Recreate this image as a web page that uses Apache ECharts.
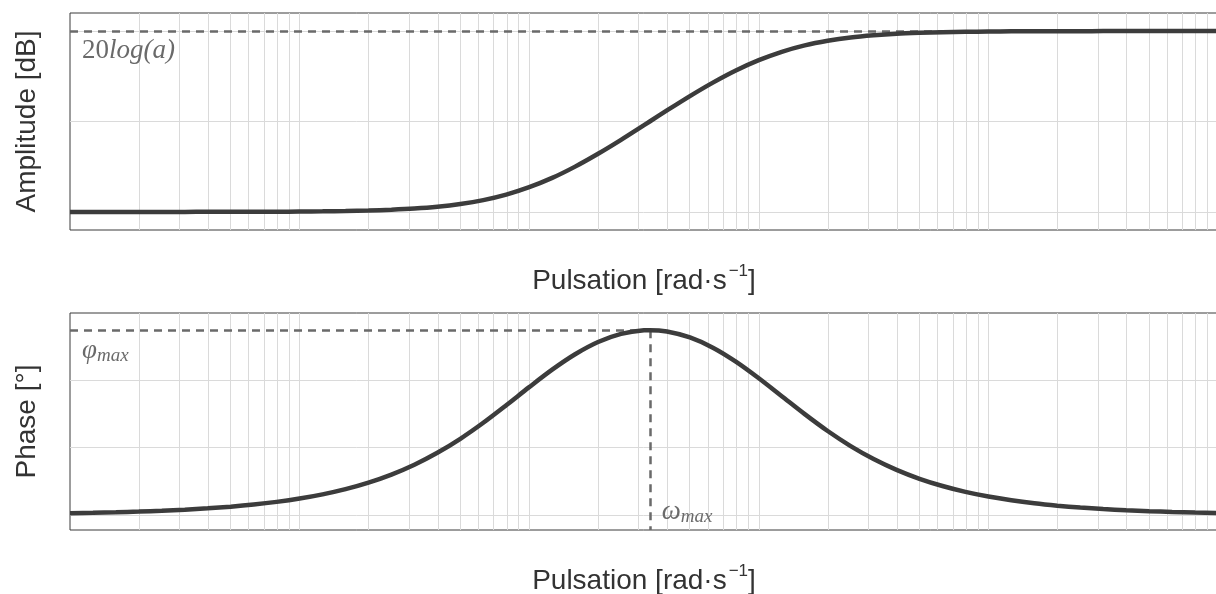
<!DOCTYPE html>
<html><head><meta charset="utf-8">
<script src="https://cdn.jsdelivr.net/npm/echarts@6/dist/echarts.min.js"></script>
<style>html,body{margin:0;padding:0;background:#fff}#c{width:1216px;height:594px}</style>
</head><body><div id="c"></div>
<script>
// pulsation samples [rad/s]
const omega = [0.01,0.01259,0.01585,0.01995,0.02512,0.03162,0.03981,0.05012,0.0631,0.07943,
  0.1,0.1259,0.1585,0.1995,0.2512,0.3162,0.3981,0.5012,0.631,0.7943,
  1,1.259,1.585,1.995,2.512,3.162,3.35,3.981,5.012,6.31,7.943,
  10,12.59,15.85,19.95,25.12,31.62,39.81,50.12,63.1,79.43,
  100,125.9,158.5,199.5,251.2,316.2,398.1,501.2,631,794.3,1000];
// amplitude [dB]
const amplitudeDb = [0.00,0.00,0.00,0.00,0.00,0.00,0.01,0.01,0.02,0.02,
  0.04,0.06,0.10,0.15,0.24,0.37,0.57,0.87,1.30,1.91,
  2.73,3.76,5.01,6.43,7.97,9.59,10.00,11.22,12.81,14.30,15.64,
  16.78,17.71,18.42,18.93,19.30,19.54,19.71,19.81,19.88,19.92,
  19.95,19.97,19.98,19.99,19.99,20.00,20.00,20.00,20.00,20.00,20.00];
// phase [deg]
const phaseDeg = [0.49,0.61,0.77,0.97,1.22,1.54,1.94,2.44,3.07,3.86,
  4.85,6.10,7.65,9.59,11.98,14.91,18.45,22.61,27.37,32.58,
  37.96,43.15,47.73,51.37,53.79,54.86,54.90,54.50,52.74,49.69,45.54,
  40.60,35.27,29.93,24.92,20.45,16.60,13.38,10.72,8.57,6.83,
  5.44,4.33,3.44,2.74,2.17,1.73,1.37,1.09,0.87,0.69,0.55];
const decades = [0.01, 0.1, 1, 10, 100];
const ampGridValues = [0, 10, 20];
const phaseGridValues = [0, 20, 40];
const gainHigh = 20;      // 20log(a)
const omegaMax = 3.35;
const phiMax = 54.9;
const xRange = [0.01, 1000];
const ampRange = [-2, 22];
const phaseRange = [-4.5, 60];

const gridColor = '#dadada';
const curveColor = '#3c3c3c';
const dashColor = '#6a6a6a';
const annColor = '#6a6a6a';

const vLines = [];
decades.forEach(d => { for (let m = 1; m <= 9; m++) { const v = +(d * m).toPrecision(3); if (v > xRange[0]) vLines.push(v); } });

function gridSeries(xi, yValues) {
  return {
    type: 'line', xAxisIndex: xi, yAxisIndex: xi, data: [], silent: true, z: 1,
    markLine: {
      silent: true, symbol: ['none', 'none'], animation: false,
      label: { show: false },
      lineStyle: { color: gridColor, width: 1, type: 'solid' },
      data: vLines.map(v => ({ xAxis: v })).concat(yValues.map(v => ({ yAxis: v })))
    }
  };
}
const dashStyle = { color: dashColor, width: 2.5, type: [8, 6] };
const serif = 'Liberation Serif';
const annRich = {
  n: { fontFamily: serif, fontSize: 27, color: annColor },
  i: { fontFamily: serif, fontStyle: 'italic', fontSize: 27, color: annColor },
  s: { fontFamily: serif, fontStyle: 'italic', fontSize: 19, color: annColor, padding: [10, 0, 0, 0] }
};
const sansName = {
  fontSize: 28, color: '#333', fontFamily: 'Liberation Sans',
  rich: {
    t: { fontSize: 28, color: '#333', fontFamily: 'Liberation Sans' },
    sup: { fontSize: 17, color: '#333', fontFamily: 'Liberation Sans', padding: [0, 0, 20, 2] }
  }
};
const xName = '{t|Pulsation [rad·s}{sup|−1}{t|]}';

function xAxis(gi) {
  return { gridIndex: gi, type: 'log', logBase: 10, min: xRange[0], max: xRange[1],
    axisLabel: { show: false }, axisTick: { show: false }, axisLine: { show: false }, splitLine: { show: false },
    name: xName, nameLocation: 'middle', nameGap: 33, nameTextStyle: sansName };
}
function yAxis(gi, range, name) {
  return { gridIndex: gi, type: 'value', min: range[0], max: range[1],
    axisLabel: { show: false }, axisTick: { show: false }, axisLine: { show: false }, splitLine: { show: false },
    name: name, nameLocation: 'middle', nameGap: 29,
    nameTextStyle: { fontSize: 28, color: '#333', fontFamily: 'Liberation Sans' } };
}

const gridCommon = { left: 70, width: 1148, height: 217, show: true, borderColor: '#3a3a3a', borderWidth: 1,
  containLabel: false, outerBoundsMode: 'none' };

const option = {
  animation: false,
  backgroundColor: '#fff',
  grid: [
    Object.assign({ top: 13 }, gridCommon),
    Object.assign({ top: 313 }, gridCommon)
  ],
  xAxis: [xAxis(0), xAxis(1)],
  yAxis: [yAxis(0, ampRange, 'Amplitude [dB]'), yAxis(1, phaseRange, 'Phase [°]')],
  series: [
    gridSeries(0, ampGridValues),
    gridSeries(1, phaseGridValues),
    {
      type: 'line', xAxisIndex: 0, yAxisIndex: 0, data: [], silent: true, z: 2,
      markLine: { silent: true, symbol: ['none', 'none'], label: { show: false }, lineStyle: dashStyle,
        data: [[{ coord: [xRange[0], gainHigh] }, { coord: [xRange[1], gainHigh] }]] },
      markPoint: { silent: true, symbol: 'circle', symbolSize: 0,
        data: [{ coord: [xRange[0], gainHigh],
          label: { show: true, position: [12, 20], align: 'left', verticalAlign: 'middle',
            formatter: '{n|20}{i|log(a)}', rich: annRich } }] }
    },
    {
      type: 'line', xAxisIndex: 1, yAxisIndex: 1, data: [], silent: true, z: 2,
      markLine: { silent: true, symbol: ['none', 'none'], label: { show: false }, lineStyle: dashStyle,
        data: [
          [{ coord: [xRange[0], phiMax] }, { coord: [omegaMax, phiMax] }],
          [{ coord: [omegaMax, phiMax] }, { coord: [omegaMax, phaseRange[0]] }]
        ] },
      markPoint: { silent: true, symbol: 'circle', symbolSize: 0,
        data: [
          { coord: [xRange[0], phiMax],
            label: { show: true, position: [12, 21], align: 'left', verticalAlign: 'middle',
              formatter: '{i|φ}{s|max}', rich: annRich } },
          { coord: [omegaMax, phaseRange[0]],
            label: { show: true, position: [12, -18], align: 'left', verticalAlign: 'middle',
              formatter: '{i|ω}{s|max}', rich: annRich } }
        ] }
    },
    {
      type: 'line', xAxisIndex: 0, yAxisIndex: 0, z: 5, silent: true,
      data: omega.map((w, i) => [w, amplitudeDb[i]]),
      showSymbol: false, smooth: 0.3,
      lineStyle: { color: curveColor, width: 4.5 }
    },
    {
      type: 'line', xAxisIndex: 1, yAxisIndex: 1, z: 5, silent: true,
      data: omega.map((w, i) => [w, phaseDeg[i]]),
      showSymbol: false, smooth: 0.3,
      lineStyle: { color: curveColor, width: 4.5 }
    }
  ]
};
const chart = echarts.init(document.getElementById('c'), null, { renderer: 'canvas' });
chart.setOption(option);
</script>
</body></html>
